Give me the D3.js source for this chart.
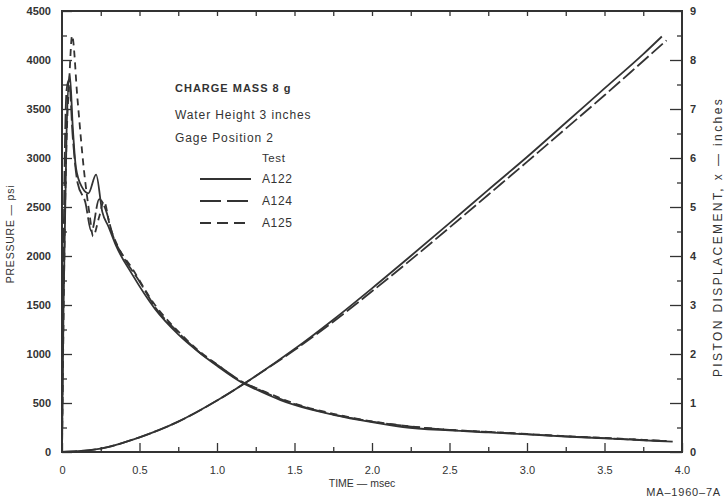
<!DOCTYPE html>
<html>
<head>
<meta charset="utf-8">
<script src="https://cdn.jsdelivr.net/npm/d3@7"></script>
<style>
  body { margin: 0; background: #fff; }
  text { font-family: "Liberation Sans", Arial, sans-serif; fill: #333; }
</style>
</head>
<body>
<svg id="chart" width="727" height="502"></svg>
<script>
// pressure records, [time msec, psi]
const pressureA122 = [[0,0],[0.01,1500],[0.03,3300],[0.05,3850],[0.07,3300],[0.09,2900],[0.13,2700],
  [0.17,2640],[0.22,2830],[0.26,2450],[0.3,2300],[0.35,2100],[0.45,1820],[0.6,1460],[0.75,1200],
  [0.89,1010],[1.0,880],[1.16,710],[1.25,640],[1.41,530],[1.5,480],[1.75,380],[2.0,305],[2.2,255],
  [2.5,220],[2.75,200],[3.0,180],[3.25,158],[3.5,140],[3.75,120],[3.94,105]];
const pressureA124 = [[0,0],[0.01,2000],[0.03,3700],[0.045,3800],[0.07,3200],[0.1,2750],[0.15,2550],
  [0.19,2250],[0.24,2580],[0.28,2480],[0.33,2200],[0.4,1980],[0.5,1740],[0.6,1480],[0.75,1220],
  [0.9,1000],[1.0,890],[1.16,720],[1.25,650],[1.5,490],[1.75,385],[2.0,310],[2.25,260],
  [2.5,225],[2.75,205],[3.0,182],[3.25,160],[3.5,142],[3.75,122],[3.9,110]];
const pressureA125 = [[0,0],[0.02,2500],[0.05,3900],[0.065,4250],[0.1,3600],[0.14,2900],[0.18,2400],
  [0.2,2200],[0.24,2400],[0.27,2560],[0.31,2300],[0.36,2100],[0.45,1880],[0.6,1500],[0.75,1230],
  [0.9,1010],[1.0,895],[1.16,715],[1.25,655],[1.5,495],[1.75,390],[2.0,312],[2.25,262],
  [2.5,226],[2.75,206],[3.0,184],[3.25,162],[3.5,144],[3.75,124],[3.9,112]];
// piston displacement, [time msec, inches]
const dispA122 = [[0,0],[0.25,0.07],[0.5,0.3],[0.75,0.62],[1.0,1.05],[1.25,1.55],[1.5,2.1],[1.75,2.7],
  [2.0,3.34],[2.25,4.0],[2.5,4.67],[2.75,5.35],[3.0,6.02],[3.25,6.72],[3.5,7.42],[3.75,8.12],[3.87,8.48]];
const dispA124 = [[0,0],[0.25,0.07],[0.5,0.3],[0.75,0.62],[1.0,1.05],[1.25,1.55],[1.5,2.08],[1.75,2.66],
  [2.0,3.28],[2.25,3.92],[2.5,4.58],[2.75,5.25],[3.0,5.92],[3.25,6.6],[3.5,7.28],[3.75,7.98],[3.9,8.4]];

const xTicks = [0, 0.5, 1.0, 1.5, 2.0, 2.5, 3.0, 3.5, 4.0];
const xTickLabels = ["0", "0.5", "1.0", "1.5", "2.0", "2.5", "3.0", "3.5", "4.0"];
const pTicks = d3.range(0, 4501, 500);
const dTicks = d3.range(0, 10, 1);

const tests = [
  {name: "A122", dash: null, key: null, p: pressureA122, d: dispA122},
  {name: "A124", dash: "15,4", key: "21,6", p: pressureA124, d: dispA124},
  {name: "A125", dash: "7,5", key: "11,6", p: pressureA125, d: null}
];

const svg = d3.select("#chart");
const x = d3.scaleLinear().domain([0, 4]).range([62, 682]);
const yP = d3.scaleLinear().domain([0, 4500]).range([452, 11]);
const yD = d3.scaleLinear().domain([0, 9]).range([452, 11]);
const ink = "#333";

// frame
svg.append("rect")
  .attr("x", x(0)).attr("y", yP(4500))
  .attr("width", x(4) - x(0)).attr("height", yP(0) - yP(4500))
  .attr("fill", "none").attr("stroke", ink).attr("stroke-width", 2);

function tickMarks(g) {
  g.select(".domain").remove();
  g.selectAll("line").attr("stroke", ink).attr("stroke-width", 1.3);
}

// bottom axis: major labeled, minor short
svg.append("g").attr("transform", `translate(0,${yP(0)})`)
  .call(d3.axisBottom(x).tickValues(xTicks).tickSize(-9).tickPadding(14)
    .tickFormat((d, i) => xTickLabels[i]))
  .call(tickMarks)
  .call(g => g.selectAll("text").style("font-size", "11px").attr("fill", ink));
svg.append("g").attr("transform", `translate(0,${yP(0)})`)
  .call(d3.axisBottom(x).tickValues(d3.range(0.25, 4, 0.5)).tickSize(-5).tickFormat(""))
  .call(tickMarks);
// top axis ticks
svg.append("g").attr("transform", `translate(0,${yP(4500)})`)
  .call(d3.axisTop(x).tickValues(d3.range(0.25, 4, 0.25)).tickSize(-5).tickFormat(""))
  .call(tickMarks);

// left axis
svg.append("g").attr("transform", `translate(${x(0)},0)`)
  .call(d3.axisLeft(yP).tickValues(pTicks).tickSize(-10).tickPadding(11).tickFormat(d3.format("d")))
  .call(tickMarks)
  .call(g => g.selectAll("text").style("font-size", "11px").style("font-weight", "bold").attr("fill", ink));
svg.append("g").attr("transform", `translate(${x(0)},0)`)
  .call(d3.axisLeft(yP).tickValues(d3.range(250, 4500, 500)).tickSize(-5).tickFormat(""))
  .call(tickMarks);

// right axis
svg.append("g").attr("transform", `translate(${x(4)},0)`)
  .call(d3.axisRight(yD).tickValues(dTicks).tickSize(-12).tickPadding(8))
  .call(tickMarks)
  .call(g => g.selectAll("text").style("font-size", "11px").style("font-weight", "bold").attr("fill", ink));
svg.append("g").attr("transform", `translate(${x(4)},0)`)
  .call(d3.axisRight(yD).tickValues(d3.range(0.5, 9, 1)).tickSize(-5).tickFormat(""))
  .call(tickMarks);

// curves
const lineP = d3.line().x(d => x(d[0])).y(d => yP(d[1])).curve(d3.curveMonotoneX);
const lineD = d3.line().x(d => x(d[0])).y(d => yD(d[1])).curve(d3.curveMonotoneX);
tests.forEach(t => {
  svg.append("path").datum(t.p).attr("d", lineP)
    .attr("fill", "none").attr("stroke", ink).attr("stroke-width", 1.8)
    .attr("stroke-dasharray", t.dash);
  if (t.d) {
    svg.append("path").datum(t.d).attr("d", lineD)
      .attr("fill", "none").attr("stroke", ink).attr("stroke-width", 1.8)
      .attr("stroke-dasharray", t.dash);
  }
});

// annotation block
const note = svg.append("g");
note.append("text").attr("x", 175).attr("y", 92).style("font-size", "11px").style("font-weight", "bold")
  .style("letter-spacing", "1px").text("CHARGE MASS 8 g");
note.append("text").attr("x", 175).attr("y", 119).style("font-size", "12px")
  .style("letter-spacing", "0.9px").text("Water Height 3 inches");
note.append("text").attr("x", 175).attr("y", 142).style("font-size", "12px")
  .style("letter-spacing", "0.9px").text("Gage Position 2");
note.append("text").attr("x", 262).attr("y", 162).style("font-size", "11.5px")
  .style("letter-spacing", "0.6px").text("Test");
tests.forEach((t, i) => {
  const ly = 179 + i * 22;
  note.append("line").attr("x1", 200).attr("x2", 251).attr("y1", ly).attr("y2", ly)
    .attr("stroke", ink).attr("stroke-width", 1.8).attr("stroke-dasharray", t.key);
  note.append("text").attr("x", 262).attr("y", ly + 4).style("font-size", "12px")
    .style("letter-spacing", "0.6px").text(t.name);
});

// axis titles
svg.append("text").attr("x", 362).attr("y", 487).attr("text-anchor", "middle")
  .style("font-size", "10.5px").text("TIME \u2014 msec");
svg.append("text").attr("transform", "translate(14,234) rotate(-90)").attr("text-anchor", "middle")
  .style("font-size", "10.5px").style("letter-spacing", "0.8px").text("PRESSURE \u2014 psi");
svg.append("text").attr("transform", "translate(722,237) rotate(-90)").attr("text-anchor", "middle")
  .style("font-size", "12px").style("letter-spacing", "2.4px").text("PISTON DISPLACEMENT, x \u2014 inches");
svg.append("text").attr("x", 721).attr("y", 496).attr("text-anchor", "end")
  .style("font-size", "11px").style("letter-spacing", "0.8px").text("MA\u20131960\u20137A");
</script>
</body>
</html>
